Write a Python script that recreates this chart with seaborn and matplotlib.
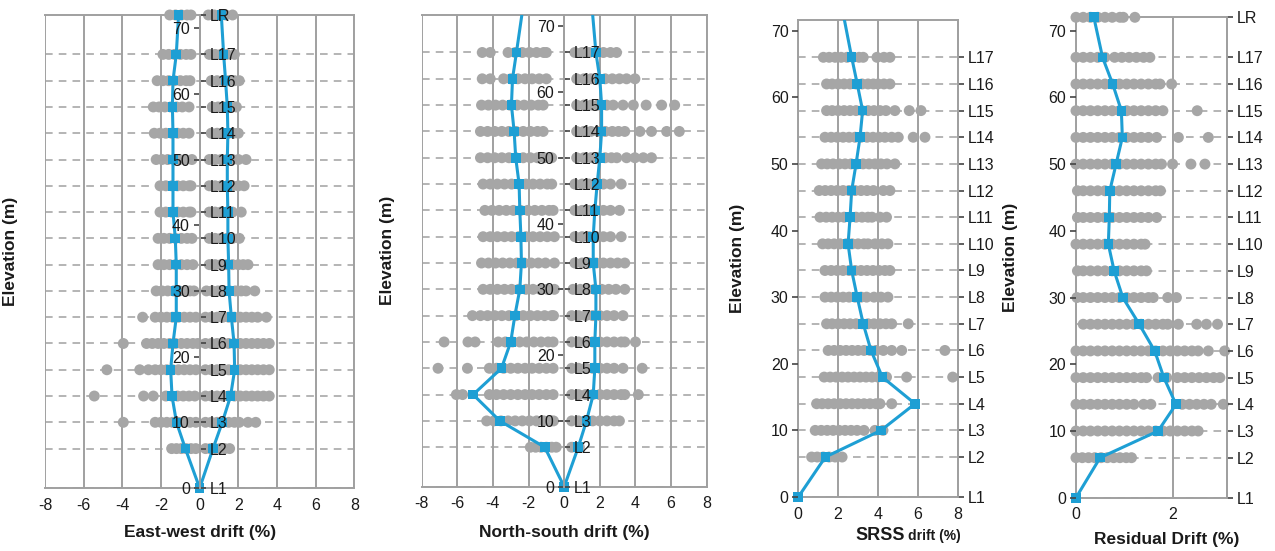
import numpy as np
import pandas as pd
import matplotlib
matplotlib.use("Agg")
import matplotlib.pyplot as plt
import seaborn as sns

# floor levels and their elevations (m)
level_names = ["L1", "L2", "L3", "L4", "L5", "L6", "L7", "L8", "L9", "L10",
               "L11", "L12", "L13", "L14", "L15", "L16", "L17", "LR"]
elevation = [0, 6, 10, 14, 18, 22, 26, 30, 34, 38, 42, 46, 50, 54, 58, 62, 66, 72]

# mean drift profiles (blue), L1 -> LR
ew_neg_mean = [0, -0.74, -1.2, -1.43, -1.5, -1.38, -1.21, -1.21, -1.21, -1.26,
               -1.38, -1.38, -1.38, -1.38, -1.41, -1.38, -1.21, -1.09]
ew_pos_mean = [0, 0.69, 1.17, 1.6, 1.81, 1.78, 1.64, 1.52, 1.5, 1.46,
               1.46, 1.43, 1.43, 1.46, 1.43, 1.34, 1.24, 1.12]
ns_neg_mean = [0, -1.09, -3.61, -5.11, -3.52, -3.0, -2.77, -2.49, -2.4, -2.43,
               -2.49, -2.53, -2.72, -2.81, -2.96, -2.9, -2.68, -2.36]
ns_pos_mean = [0, 0.79, 1.25, 1.63, 1.72, 1.72, 1.78, 1.78, 1.63, 1.63,
               1.72, 1.85, 2.0, 2.1, 2.1, 2.0, 1.78, 1.59]
srss_mean = [0, 1.36, 4.15, 5.86, 4.22, 3.65, 3.26, 2.96, 2.68, 2.5,
             2.6, 2.68, 2.9, 3.1, 3.23, 2.96, 2.68, 2.29]
res_mean = [0, 0.5, 1.7, 2.07, 1.82, 1.63, 1.31, 0.97, 0.79, 0.67,
            0.69, 0.70, 0.83, 0.96, 0.94, 0.76, 0.55, 0.37]

# individual ground-motion results (gray), one list per level L1 -> LR
ew_neg_pts = [
    [],
    [-1.45, -1.2, -0.95, -0.7, -0.45, -0.2],
    [-3.95, -2.3, -2.0, -1.7, -1.4, -1.1, -0.8, -0.5, -0.2],
    [-5.45, -2.9, -2.4, -1.75, -1.45, -1.15, -0.85, -0.55, -0.25],
    [-4.8, -3.1, -2.65, -2.3, -2.0, -1.7, -1.4, -1.1, -0.8, -0.5, -0.2],
    [-3.95, -2.75, -2.45, -2.15, -1.85, -1.55, -1.25, -0.95, -0.65, -0.35, -0.1],
    [-2.95, -2.3, -2.0, -1.7, -1.4, -1.1, -0.8, -0.5, -0.2],
    [-2.25, -1.95, -1.65, -1.35, -1.05, -0.75, -0.5, -0.3],
    [-2.15, -1.85, -1.55, -1.25, -0.95, -0.65, -0.35],
    [-2.15, -1.85, -1.55, -1.25, -0.95, -0.65, -0.4],
    [-2.05, -1.75, -1.45, -1.15, -0.85, -0.55, -0.45],
    [-2.05, -1.75, -1.45, -1.15, -0.85, -0.55, -0.45],
    [-2.25, -1.95, -1.65, -1.35, -1.05, -0.75, -0.4],
    [-2.35, -2.05, -1.75, -1.45, -1.15, -0.85, -0.55],
    [-2.4, -2.1, -1.8, -1.5, -1.2, -0.9, -0.55],
    [-2.2, -1.9, -1.6, -1.3, -1.0, -0.7, -0.5],
    [-1.9, -1.6, -1.3, -1.0, -0.7, -0.45],
    [-1.55, -1.25, -0.95, -0.65, -0.45],
]
ew_pos_pts = [
    [],
    [0.3, 0.55, 0.8, 1.05, 1.3, 1.55],
    [0.3, 0.6, 0.9, 1.2, 1.5, 1.8, 2.05, 2.5, 2.9],
    [0.3, 0.6, 0.9, 1.2, 1.5, 1.8, 2.1, 2.4, 2.7, 3.0, 3.3, 3.6],
    [0.3, 0.6, 0.9, 1.2, 1.5, 1.8, 2.1, 2.4, 2.7, 3.0, 3.3, 3.6],
    [0.3, 0.6, 0.9, 1.2, 1.5, 1.8, 2.1, 2.4, 2.7, 3.0, 3.3, 3.6],
    [0.3, 0.6, 0.9, 1.2, 1.5, 1.8, 2.1, 2.4, 2.7, 3.0, 3.45],
    [0.35, 0.65, 0.95, 1.25, 1.55, 1.85, 2.15, 2.4, 2.85],
    [0.5, 0.8, 1.1, 1.4, 1.7, 2.0, 2.25, 2.5],
    [0.5, 0.8, 1.1, 1.4, 1.7, 2.05],
    [0.5, 0.8, 1.1, 1.4, 1.7, 2.15],
    [0.5, 0.8, 1.1, 1.4, 1.7, 2.0, 2.3],
    [0.5, 0.8, 1.1, 1.4, 1.7, 2.0, 2.4],
    [0.6, 0.9, 1.2, 1.5, 1.75, 2.0],
    [0.65, 0.95, 1.25, 1.55, 1.9],
    [0.6, 0.9, 1.2, 1.5, 1.8, 2.05],
    [0.5, 0.8, 1.1, 1.4, 1.8],
    [0.45, 0.75, 1.05, 1.35, 1.7],
]
ns_neg_pts = [
    [],
    [-1.9, -1.6, -1.3, -1.0, -0.7, -0.45],
    [-4.35, -3.95, -3.55, -3.15, -2.75, -2.35, -1.95, -1.55, -1.15, -0.75, -0.6],
    [-6.05, -5.7, -4.2, -3.8, -3.4, -3.0, -2.6, -2.2, -1.8, -1.4, -1.0, -0.62],
    [-7.08, -5.43, -4.2, -3.8, -3.4, -3.0, -2.6, -2.2, -1.8, -1.4, -1.0, -0.62],
    [-6.74, -5.4, -5.0, -3.7, -3.3, -2.9, -2.5, -2.1, -1.7, -1.3, -0.9, -0.62],
    [-5.15, -4.7, -4.3, -3.9, -3.5, -3.1, -2.7, -2.3, -1.9, -1.5, -1.1, -0.7, -0.6],
    [-4.55, -4.15, -3.75, -3.35, -2.95, -2.55, -2.15, -1.75, -1.35, -0.95, -0.55],
    [-4.64, -4.25, -3.85, -3.45, -3.05, -2.65, -2.25, -1.85, -1.45, -1.05, -0.55],
    [-4.55, -4.15, -3.75, -3.35, -2.95, -2.55, -2.15, -1.75, -1.35, -0.95, -0.55],
    [-4.45, -4.05, -3.65, -3.25, -2.85, -2.45, -2.05, -1.65, -1.25, -0.85, -0.62],
    [-4.55, -4.15, -3.75, -3.35, -2.95, -2.55, -2.15, -1.75, -1.35, -0.95, -0.7],
    [-4.7, -4.3, -3.9, -3.5, -3.1, -2.7, -2.3, -1.9, -1.5, -1.1, -0.7],
    [-4.7, -4.3, -3.9, -3.5, -3.1, -2.7, -2.3, -1.9, -1.5, -1.18],
    [-4.64, -4.25, -3.85, -3.45, -3.05, -2.65, -2.25, -1.85, -1.45, -1.18],
    [-4.6, -4.15, -3.4, -3.0, -2.6, -2.2, -1.8, -1.4, -1.0],
    [-4.6, -4.15, -3.15, -2.75, -2.35, -1.95, -1.55, -1.15, -1.0],
    [],
]
ns_pos_pts = [
    [],
    [0.42, 0.85],
    [0.42, 0.8, 1.2, 1.6, 2.0, 2.4, 2.8, 3.1],
    [0.42, 0.8, 1.2, 1.6, 2.0, 2.4, 2.8, 3.2, 3.4, 4.16],
    [0.42, 0.8, 1.2, 1.6, 2.0, 2.4, 2.8, 3.3, 4.38],
    [0.42, 0.8, 1.2, 1.6, 2.0, 2.4, 2.8, 3.2, 3.4, 4.0],
    [0.42, 0.8, 1.2, 1.6, 2.0, 2.4, 2.8, 3.3],
    [0.5, 0.9, 1.3, 1.7, 2.1, 2.5, 2.9, 3.4],
    [0.6, 1.0, 1.4, 1.8, 2.2, 2.6, 3.0, 3.4],
    [0.6, 1.0, 1.4, 1.8, 2.2, 2.6, 3.2],
    [0.6, 1.0, 1.4, 1.8, 2.2, 2.6, 3.1],
    [0.6, 1.0, 1.4, 1.8, 2.2, 2.6, 3.2],
    [0.7, 1.1, 1.5, 1.9, 2.3, 2.65, 2.95, 3.5, 3.97, 4.44, 4.9],
    [0.7, 1.1, 1.5, 1.9, 2.3, 2.7, 3.05, 3.4, 4.25, 4.9, 5.75, 6.46],
    [0.7, 1.1, 1.5, 1.9, 2.38, 2.75, 3.3, 3.88, 4.6, 5.47, 6.2],
    [0.7, 1.1, 1.5, 1.9, 2.3, 2.7, 3.1, 3.5, 3.97],
    [0.6, 1.0, 1.4, 1.8, 2.2, 2.6, 2.94],
    [],
]
srss_pts = [
    [],
    [0.67, 0.95, 1.25, 1.55, 1.85, 2.2],
    [0.85, 1.15, 1.45, 1.75, 2.05, 2.35, 2.65, 2.95, 3.3, 3.85, 4.25],
    [0.92, 1.2, 1.5, 1.8, 2.1, 2.4, 2.7, 3.0, 3.3, 3.6, 3.9, 4.1, 4.69],
    [1.3, 1.6, 1.9, 2.2, 2.5, 2.8, 3.1, 3.4, 3.7, 4.0, 4.43, 5.44, 7.75],
    [1.5, 1.8, 2.1, 2.4, 2.7, 3.0, 3.3, 3.6, 3.9, 4.27, 4.69, 5.19, 7.36],
    [1.42, 1.7, 2.0, 2.3, 2.6, 2.9, 3.2, 3.5, 3.8, 4.1, 4.4, 4.69, 5.52],
    [1.34, 1.65, 1.95, 2.25, 2.55, 2.85, 3.15, 3.43, 3.8, 4.15, 4.5],
    [1.34, 1.65, 1.95, 2.25, 2.55, 2.85, 3.15, 3.45, 3.75, 4.05, 4.35, 4.6],
    [1.22, 1.5, 1.8, 2.1, 2.4, 2.7, 3.0, 3.3, 3.5, 3.85, 4.2, 4.5],
    [1.09, 1.4, 1.7, 2.0, 2.3, 2.6, 2.9, 3.2, 3.5, 3.7, 4.1, 4.43],
    [1.05, 1.35, 1.65, 1.95, 2.25, 2.55, 2.85, 3.15, 3.45, 3.77, 4.27, 4.6],
    [1.17, 1.45, 1.75, 2.05, 2.35, 2.65, 2.95, 3.25, 3.55, 3.85, 4.15, 4.45, 4.85],
    [1.34, 1.65, 1.95, 2.25, 2.55, 2.85, 3.15, 3.45, 3.75, 4.05, 4.35, 4.69, 5.02, 5.77, 6.36],
    [1.42, 1.7, 2.0, 2.3, 2.6, 2.9, 3.2, 3.5, 3.8, 4.1, 4.4, 4.85, 5.57, 6.16],
    [1.42, 1.7, 2.0, 2.3, 2.6, 2.9, 3.2, 3.5, 3.77, 4.0, 4.3, 4.6],
    [1.26, 1.55, 1.85, 2.15, 2.45, 2.75, 3.05, 3.26, 3.95, 4.3, 4.6],
    [],
]
res_pts = [
    [],
    [0.0, 0.13, 0.26, 0.39, 0.52, 0.65, 0.78, 0.91, 1.04, 1.15],
    [0.0, 0.15, 0.3, 0.45, 0.6, 0.75, 0.9, 1.05, 1.2, 1.35, 1.5, 1.65, 1.8, 1.95, 2.1, 2.25, 2.4, 2.53],
    [0.0, 0.15, 0.3, 0.45, 0.6, 0.75, 0.9, 1.05, 1.2, 1.4, 1.55, 2.2, 2.35, 2.5, 2.65, 2.8, 3.05],
    [0.0, 0.15, 0.3, 0.45, 0.6, 0.75, 0.9, 1.05, 1.2, 1.35, 1.46, 1.7, 1.88, 2.1, 2.25, 2.4, 2.55, 2.7, 2.85, 2.98],
    [0.0, 0.15, 0.3, 0.45, 0.6, 0.75, 0.9, 1.05, 1.2, 1.35, 1.5, 1.65, 1.8, 1.95, 2.1, 2.25, 2.4, 2.53, 2.74, 3.08],
    [0.15, 0.3, 0.45, 0.6, 0.75, 0.9, 1.05, 1.2, 1.35, 1.5, 1.65, 1.8, 1.9, 2.12, 2.5, 2.7, 2.93],
    [0.02, 0.15, 0.3, 0.45, 0.6, 0.75, 0.9, 1.05, 1.2, 1.35, 1.5, 1.6, 1.9, 2.08],
    [0.03, 0.15, 0.3, 0.45, 0.6, 0.75, 0.9, 1.05, 1.2, 1.35, 1.46],
    [0.0, 0.15, 0.3, 0.45, 0.6, 0.75, 0.9, 1.05, 1.2, 1.35, 1.43],
    [0.03, 0.15, 0.3, 0.45, 0.6, 0.75, 0.9, 1.05, 1.2, 1.35, 1.5, 1.67],
    [0.03, 0.15, 0.3, 0.45, 0.6, 0.75, 0.9, 1.05, 1.2, 1.35, 1.5, 1.65, 1.75],
    [0.0, 0.15, 0.3, 0.45, 0.6, 0.75, 0.9, 1.05, 1.2, 1.35, 1.5, 1.65, 1.77, 2.0, 2.38, 2.67],
    [0.0, 0.15, 0.3, 0.45, 0.6, 0.75, 0.9, 1.05, 1.2, 1.35, 1.5, 1.67, 2.12, 2.74],
    [0.0, 0.15, 0.3, 0.45, 0.6, 0.75, 0.9, 1.05, 1.2, 1.35, 1.5, 1.65, 1.8, 2.51],
    [0.0, 0.15, 0.3, 0.45, 0.6, 0.75, 0.9, 1.05, 1.2, 1.35, 1.5, 1.65, 1.74, 1.98],
    [0.0, 0.15, 0.3, 0.45, 0.6, 0.8, 0.95, 1.1, 1.25, 1.4, 1.53],
    [0.0, 0.15, 0.3, 0.45, 0.6, 0.75, 0.91, 0.98, 1.22],
]

elev_ticks = [0, 10, 20, 30, 40, 50, 60, 70]
sym_ticks = [-8, -6, -4, -2, 0, 2, 4, 6, 8]

BLUE = "#1e9fd4"
GRAY = "#a6a6a6"
LINE = "#a0a0a0"
TXT = "#1a1a1a"

sns.set_theme(style="white")
plt.rcParams['font.family'] = ['Liberation Sans', 'DejaVu Sans']
plt.rcParams['axes.unicode_minus'] = False


def cloud_frame(pts):
    rows = [(v, elevation[i]) for i, vals in enumerate(pts) for v in vals]
    return pd.DataFrame(rows, columns=["drift", "elev"])


def draw_panel(ax, clouds, means, xlim, xticks, ytop, centered):
    for e in elevation:
        if e < ytop - 0.5:
            ax.axhline(e, color=LINE, lw=1.1, ls=(0, (5, 4)), zorder=0.6)
    for pts in clouds:
        sns.scatterplot(data=cloud_frame(pts), x="drift", y="elev", ax=ax, color=GRAY,
                        s=62, edgecolor="none", linewidth=0, zorder=3, clip_on=False)
    for m in means:
        df = pd.DataFrame({"drift": m, "elev": elevation})
        sns.lineplot(data=df, x="drift", y="elev", orient="y", ax=ax, color=BLUE,
                     lw=2.2, errorbar=None, zorder=4)
        vis = df[df["elev"] <= ytop]
        sns.scatterplot(data=vis, x="drift", y="elev", ax=ax, marker="s", color=BLUE,
                        s=48, edgecolor="none", linewidth=0, zorder=5, clip_on=False)
    ax.set_xlabel("")
    ax.set_ylabel("")
    ax.set_xticks(xticks)
    ax.set_yticks(elev_ticks)
    ax.set_xlim(*xlim)
    ax.set_ylim(0, ytop)
    ax.grid(axis="x", color=LINE, lw=1.4)
    ax.grid(axis="y", visible=False)
    ax.xaxis.set_zorder(0.5)
    ax.yaxis.set_zorder(6)
    for sp in ax.spines.values():
        sp.set_color(LINE)
        sp.set_linewidth(1.4)
    ax.tick_params(axis="x", direction="out", length=4, width=1, color=LINE,
                   labelsize=11.5, labelcolor=TXT, pad=3)
    ax.tick_params(axis="y", direction="out", length=4, width=1.2, color="#444444",
                   labelsize=11.5, labelcolor=TXT, pad=3)

    ax2 = ax.twinx()
    ax2.set_yticks(elevation, level_names)
    ax2.set_ylim(0, ytop)
    ax2.tick_params(axis="y", direction="out", length=4, width=1.2, color="#444444",
                    labelsize=11.5, labelcolor=TXT, pad=3)
    for name in ["left", "top", "bottom"]:
        ax2.spines[name].set_visible(False)
    ax2.spines["right"].set_color(LINE)
    ax2.spines["right"].set_linewidth(1.4)
    if centered:
        ax.spines["left"].set_position(("data", 0))
        ax2.spines["right"].set_position(("data", 0))
    return ax2


fig = plt.figure(figsize=(12.75, 5.51), dpi=100)
ax1 = fig.add_axes([0.0353, 0.1143, 0.2426, 0.8585])
ax2 = fig.add_axes([0.3307, 0.1167, 0.2236, 0.8561])
ax3 = fig.add_axes([0.6261, 0.0980, 0.1250, 0.8657])
ax4 = fig.add_axes([0.8439, 0.0967, 0.1182, 0.8719])

draw_panel(ax1, [ew_neg_pts, ew_pos_pts], [ew_neg_mean, ew_pos_mean], (-8, 8), sym_ticks, 72, True)
draw_panel(ax2, [ns_neg_pts, ns_pos_pts], [ns_neg_mean, ns_pos_mean], (-8, 8), sym_ticks, 71.7, True)
draw_panel(ax3, [srss_pts], [srss_mean], (0, 8), [0, 2, 4, 6, 8], 71.6, False)
draw_panel(ax4, [res_pts], [res_mean], (0, 3.12), [0, 2], 72, False)

lab = dict(fontsize=12.5, fontweight="bold", color=TXT)
for ax, xc in [(ax1, -0.087), (ax2, -0.094), (ax3, -0.334), (ax4, -0.385)]:
    ax.set_ylabel("Elevation (m)", **lab)
    ax.yaxis.set_label_coords(xc, 0.5)

ax1.text(0.5, -0.095, "East-west drift (%)", transform=ax1.transAxes,
         ha="center", va="center", **lab)
ax2.text(0.5, -0.098, "North-south drift (%)", transform=ax2.transAxes,
         ha="center", va="center", **lab)
ax3.text(0.67, -0.09, "SRSS", transform=ax3.transAxes, ha="right", va="baseline",
         fontsize=13, fontweight="bold", color=TXT)
ax3.text(0.69, -0.09, "drift (%)", transform=ax3.transAxes, ha="left", va="baseline",
         fontsize=10, fontweight="bold", color=TXT)
ax4.text(0.6, -0.088, "Residual Drift (%)", transform=ax4.transAxes,
         ha="center", va="center", **lab)

fig.savefig("out.png", dpi=100)
